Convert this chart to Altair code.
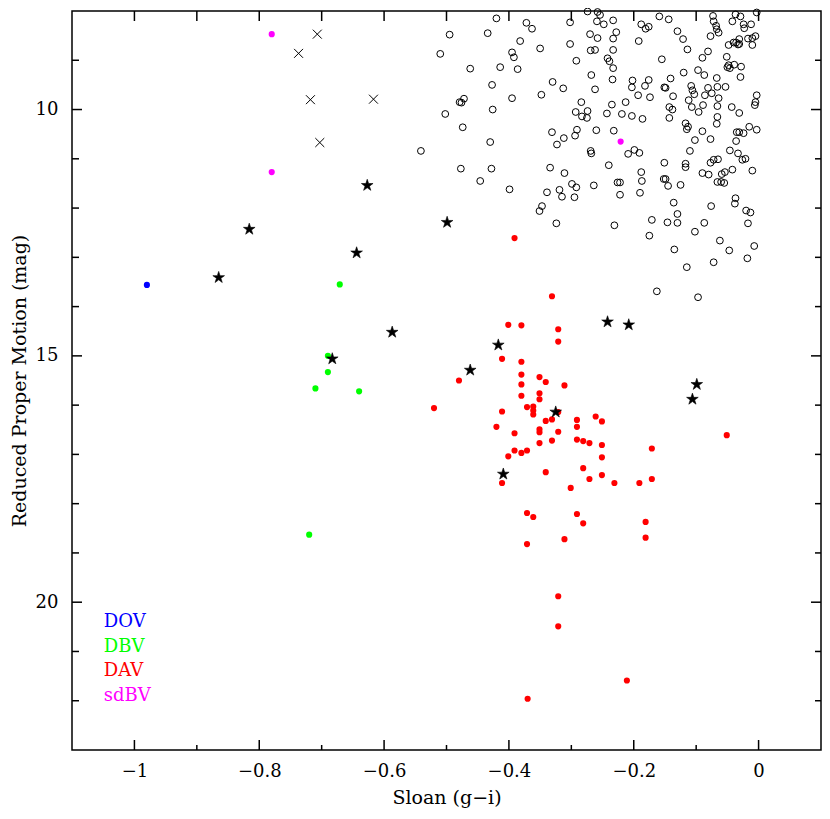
import altair as alt
import pandas as pd

W, H = 749, 739
FONT = "DejaVu Serif"
X_DOM = [-1.1, 0.1]
Y_DOM = [8, 23]

# ---------------- data (Sloan g-i, reduced proper motion) ----------------
open_pts = [
    (-0.274, 8.01), (-0.258, 8.02), (-0.254, 8.08), (-0.233, 8.19), (-0.248, 8.27), (-0.259, 8.21), (-0.003, 8.03), (-0.073, 8.10), (-0.037, 8.07), (-0.029, 8.11),
    (-0.072, 8.21), (-0.042, 8.21), (-0.024, 8.27), (-0.012, 8.27), (-0.068, 8.30), (-0.067, 8.37), (-0.064, 8.44), (-0.077, 8.51), (-0.023, 8.35), (-0.420, 8.15),
    (-0.372, 8.24), (-0.363, 8.36), (-0.302, 8.23), (-0.495, 8.48), (-0.434, 8.45), (-0.270, 8.47), (-0.258, 8.55), (-0.228, 8.43), (-0.233, 8.56), (-0.188, 8.27),
    (-0.181, 8.36), (-0.176, 8.32), (-0.159, 8.11), (-0.144, 8.17), (-0.130, 8.41), (-0.121, 8.57), (-0.005, 8.51), (-0.017, 8.56), (-0.031, 8.57), (-0.048, 8.69),
    (-0.040, 8.64), (-0.036, 8.64), (-0.031, 8.67), (-0.010, 8.69), (-0.114, 8.78), (-0.382, 8.61), (-0.350, 8.76), (-0.302, 8.67), (-0.269, 8.80), (-0.262, 8.79),
    (-0.233, 8.79), (-0.510, 8.87), (-0.395, 8.84), (-0.392, 8.94), (-0.386, 9.18), (-0.414, 9.14), (-0.462, 9.17), (-0.292, 9.01), (-0.242, 8.96), (-0.239, 9.02),
    (-0.233, 9.16), (-0.192, 8.61), (-0.155, 8.98), (-0.090, 8.95), (-0.081, 8.82), (-0.051, 8.93), (-0.048, 9.10), (-0.046, 9.16), (-0.050, 9.14), (-0.039, 9.09),
    (-0.028, 9.13), (-0.029, 9.34), (-0.120, 9.25), (-0.097, 9.20), (-0.087, 9.30), (-0.067, 9.36), (-0.053, 9.54), (-0.066, 9.54), (-0.081, 9.56), (-0.075, 9.67),
    (-0.086, 9.71), (-0.103, 9.69), (-0.106, 9.61), (-0.108, 9.52), (-0.112, 9.81), (-0.107, 9.95), (-0.089, 9.91), (-0.066, 9.93), (-0.064, 9.77), (-0.003, 9.71),
    (-0.005, 9.85), (-0.006, 9.91), (-0.043, 9.95), (-0.031, 10.07), (-0.066, 10.15), (-0.067, 10.29), (-0.096, 10.05), (-0.117, 10.28), (-0.113, 10.35), (-0.115, 10.40),
    (-0.090, 10.44), (-0.077, 10.60), (-0.102, 10.62), (-0.110, 10.84), (-0.141, 9.37), (-0.137, 9.73), (-0.143, 9.95), (-0.138, 10.00), (-0.143, 10.17), (-0.151, 9.55),
    (-0.149, 9.56), (-0.176, 9.40), (-0.202, 9.41), (-0.203, 9.55), (-0.182, 9.52), (-0.193, 9.71), (-0.174, 9.75), (-0.213, 9.85), (-0.235, 9.90), (-0.243, 10.08),
    (-0.219, 10.09), (-0.203, 10.13), (-0.186, 10.19), (-0.234, 9.39), (-0.268, 9.30), (-0.262, 9.59), (-0.330, 9.44), (-0.313, 9.57), (-0.348, 9.70), (-0.395, 9.77),
    (-0.427, 9.50), (-0.472, 9.78), (-0.479, 9.85), (-0.476, 9.86), (-0.426, 10.00), (-0.502, 10.09), (-0.474, 10.36), (-0.430, 10.66), (-0.284, 9.85), (-0.274, 10.03),
    (-0.293, 10.05), (-0.283, 10.14), (-0.275, 10.17), (-0.291, 10.41), (-0.294, 10.53), (-0.260, 10.42), (-0.232, 10.43), (-0.331, 10.46), (-0.312, 10.58), (-0.323, 10.71),
    (-0.269, 10.84), (-0.268, 10.89), (-0.240, 11.13), (-0.199, 10.82), (-0.209, 10.90), (-0.191, 10.88), (-0.151, 11.08), (-0.117, 11.10), (-0.117, 11.17), (-0.152, 11.41),
    (-0.149, 11.41), (-0.145, 11.55), (-0.125, 11.53), (-0.188, 11.27), (-0.187, 11.45), (-0.190, 11.69), (-0.222, 11.48), (-0.226, 11.48), (-0.222, 11.73), (-0.264, 11.54),
    (-0.299, 11.51), (-0.292, 11.58), (-0.295, 11.78), (-0.319, 11.63), (-0.315, 11.77), (-0.339, 11.68), (-0.334, 11.18), (-0.311, 11.29), (-0.347, 11.96), (-0.351, 12.06),
    (-0.324, 12.31), (-0.231, 12.35), (-0.399, 11.62), (-0.446, 11.45), (-0.428, 11.20), (-0.477, 11.20), (-0.136, 11.89), (-0.130, 12.12), (-0.146, 12.29), (-0.130, 12.30),
    (-0.171, 12.24), (-0.175, 12.56), (-0.135, 12.84), (-0.115, 13.20), (-0.102, 12.48), (-0.087, 12.30), (-0.076, 11.96), (-0.090, 11.29), (-0.080, 11.32), (-0.077, 11.08),
    (-0.072, 11.02), (-0.065, 11.01), (-0.059, 11.31), (-0.054, 11.27), (-0.066, 11.47), (-0.060, 11.47), (-0.055, 11.49), (-0.042, 11.22), (-0.010, 11.24), (-0.046, 10.83),
    (-0.033, 10.89), (-0.026, 11.02), (-0.021, 11.00), (-0.035, 10.46), (-0.031, 10.46), (-0.024, 10.48), (-0.015, 10.35), (-0.003, 10.41), (-0.036, 10.64), (-0.037, 11.80),
    (-0.038, 11.91), (-0.020, 12.05), (-0.013, 12.09), (-0.017, 12.31), (-0.007, 12.77), (-0.047, 12.86), (-0.062, 12.66), (-0.072, 13.10), (-0.018, 13.02), (-0.163, 13.69),
    (-0.097, 13.81), (-0.541, 10.84), (-0.033, 8.68), (-0.010, 8.55),
]

star_pts = [
    (-0.627, 11.54), (-0.816, 12.43), (-0.644, 12.91), (-0.865, 13.41), (-0.499, 12.29),
    (-0.587, 14.52), (-0.683, 15.06), (-0.417, 14.78), (-0.462, 15.29), (-0.242, 14.31),
    (-0.208, 14.37), (-0.099, 15.58), (-0.106, 15.88), (-0.325, 16.14), (-0.409, 17.40),
]

cross_pts = [(-0.707, 8.47), (-0.737, 8.86), (-0.718, 9.80), (-0.617, 9.79), (-0.703, 10.67)]

dov_pts = [(-0.980, 13.56)]
dbv_pts = [(-0.671, 13.55), (-0.690, 15.00), (-0.690, 15.33), (-0.710, 15.66), (-0.640, 15.72), (-0.720, 18.63)]
sdbv_pts = [(-0.780, 8.47), (-0.780, 11.27), (-0.221, 10.65)]
dav_pts = [
    (-0.391, 12.61), (-0.331, 13.79), (-0.401, 14.37), (-0.380, 14.38), (-0.321, 14.46), (-0.321, 14.71), (-0.411, 15.06), (-0.380, 15.12),
    (-0.380, 15.38), (-0.351, 15.43), (-0.341, 15.53), (-0.311, 15.60), (-0.380, 15.58), (-0.480, 15.50), (-0.351, 15.76), (-0.380, 15.81),
    (-0.351, 15.88), (-0.520, 16.06), (-0.411, 16.13), (-0.371, 16.04), (-0.361, 16.03), (-0.361, 16.11), (-0.361, 16.19), (-0.321, 16.14),
    (-0.331, 16.29), (-0.341, 16.32), (-0.420, 16.44), (-0.391, 16.57), (-0.351, 16.49), (-0.351, 16.55), (-0.321, 16.54), (-0.291, 16.30),
    (-0.291, 16.44), (-0.261, 16.23), (-0.251, 16.33), (-0.331, 16.72), (-0.351, 16.77), (-0.291, 16.70), (-0.281, 16.73), (-0.271, 16.77),
    (-0.251, 16.81), (-0.171, 16.88), (-0.051, 16.61), (-0.391, 16.92), (-0.380, 16.97), (-0.371, 16.92), (-0.401, 17.04), (-0.251, 17.06),
    (-0.341, 17.36), (-0.281, 17.28), (-0.271, 17.50), (-0.251, 17.42), (-0.231, 17.58), (-0.191, 17.58), (-0.171, 17.50), (-0.411, 17.58),
    (-0.301, 17.68), (-0.371, 18.19), (-0.361, 18.27), (-0.291, 18.21), (-0.281, 18.40), (-0.181, 18.37), (-0.181, 18.69), (-0.311, 18.72),
    (-0.371, 18.82), (-0.321, 19.88), (-0.321, 20.49), (-0.211, 21.59), (-0.370, 21.96),
]

legend_labels = ["DOV", "DBV", "DAV", "sdBV"]
legend_colors = ["#0000ff", "#00ff00", "#ff0000", "#ff00ff"]
legend_y = [20.4, 20.9, 21.4, 21.9]
legend_x = -1.049

x_major = [-1, -0.8, -0.6, -0.4, -0.2, 0]
x_minor = [-0.9, -0.7, -0.5, -0.3, -0.1]
y_major = [10, 15, 20]
y_minor = [9, 11, 12, 13, 14, 16, 17, 18, 19, 21, 22]

# ---------------- helpers ----------------
xs = alt.Scale(domain=X_DOM, nice=False, zero=False)
ys = alt.Scale(domain=Y_DOM, nice=False, zero=False, reverse=True)

x_axis = alt.Axis(values=x_major, format="~g", ticks=False, domain=False, grid=False,
                  title="Sloan (g\u2212i)", labelPadding=12, titlePadding=8)
y_axis = alt.Axis(values=y_major, format="d", ticks=False, domain=False, grid=False,
                  title="Reduced Proper Motion (mag)", labelPadding=14, titlePadding=6)


def pts_df(pts, cls=None):
    d = pd.DataFrame(pts, columns=["gi", "rpm"])
    if cls is not None:
        d["cls"] = cls
    return d


def Xn():
    return alt.X("gi:Q", scale=xs, axis=None)


def Yn():
    return alt.Y("rpm:Q", scale=ys, axis=None)


STAR = ("M0,-1L0.2245,-0.309L0.9511,-0.309L0.3633,0.118L0.5878,0.809L0,0.382"
        "L-0.5878,0.809L-0.3633,0.118L-0.9511,-0.309L-0.2245,-0.309Z")
CROSS = "M-1,-1L1,1M-1,1L1,-1"

layers = []

# open circles: this layer carries the axes
layers.append(
    alt.Chart(pts_df(open_pts)).mark_point(
        shape="circle", filled=False, color="black", strokeWidth=1, size=46, opacity=1
    ).encode(x=alt.X("gi:Q", scale=xs, axis=x_axis), y=alt.Y("rpm:Q", scale=ys, axis=y_axis))
)

colored = pd.concat([
    pts_df(dov_pts, "DOV"), pts_df(dbv_pts, "DBV"), pts_df(dav_pts, "DAV"), pts_df(sdbv_pts, "sdBV")
], ignore_index=True)
layers.append(
    alt.Chart(colored).mark_circle(size=38, opacity=1).encode(
        x=Xn(), y=Yn(),
        color=alt.Color("cls:N", scale=alt.Scale(domain=legend_labels, range=legend_colors), legend=None),
    )
)

layers.append(
    alt.Chart(pts_df(star_pts)).mark_point(
        shape=STAR, filled=True, fill="black", stroke="black", strokeWidth=0.6, size=150, opacity=1
    ).encode(x=Xn(), y=Yn())
)

layers.append(
    alt.Chart(pts_df(cross_pts)).mark_point(
        shape=CROSS, filled=False, color="black", strokeWidth=1, size=80, opacity=1
    ).encode(x=Xn(), y=Yn())
)

leg_df = pd.DataFrame({"label": legend_labels, "gi": [legend_x] * 4, "rpm": legend_y})
layers.append(
    alt.Chart(leg_df).mark_text(align="left", baseline="middle", font=FONT, fontSize=18).encode(
        x=Xn(), y=Yn(),
        text="label:N",
        color=alt.Color("label:N", scale=alt.Scale(domain=legend_labels, range=legend_colors), legend=None),
    )
)


# inward tick marks on the four frame edges
def xticks(vals, y0, y1):
    return alt.Chart(pd.DataFrame({"v": vals})).mark_rule(color="black", strokeWidth=1.5).encode(
        x=alt.X("v:Q", scale=xs, axis=None), y=alt.value(y0), y2=alt.value(y1)
    )


def yticks(vals, x0, x1):
    return alt.Chart(pd.DataFrame({"v": vals})).mark_rule(color="black", strokeWidth=1.5).encode(
        y=alt.Y("v:Q", scale=ys, axis=None), x=alt.value(x0), x2=alt.value(x1)
    )


layers += [
    xticks(x_major, H, H - 10), xticks(x_minor, H, H - 5),
    xticks(x_major, 0, 10), xticks(x_minor, 0, 10),
    yticks(y_major, 0, 10), yticks(y_minor, 0, 7),
    yticks(y_major, W, W - 10), yticks(y_minor, W, W - 6),
]

chart = (
    alt.layer(*layers)
    .resolve_axis(x="independent", y="independent")
    .properties(
        width=W, height=H,
        autosize=alt.AutoSizeParams(type="none"),
        padding={"left": 64, "top": 3, "right": 1, "bottom": 58},
        background="white",
    )
    .configure_view(stroke="black", strokeWidth=1.5)
    .configure_axis(
        labelFont=FONT, labelFontSize=18, labelColor="black",
        titleFont=FONT, titleFontSize=19, titleFontWeight="normal", titleColor="black",
    )
)

chart.save("out.html", embed_options={"renderer": "svg", "actions": False})
